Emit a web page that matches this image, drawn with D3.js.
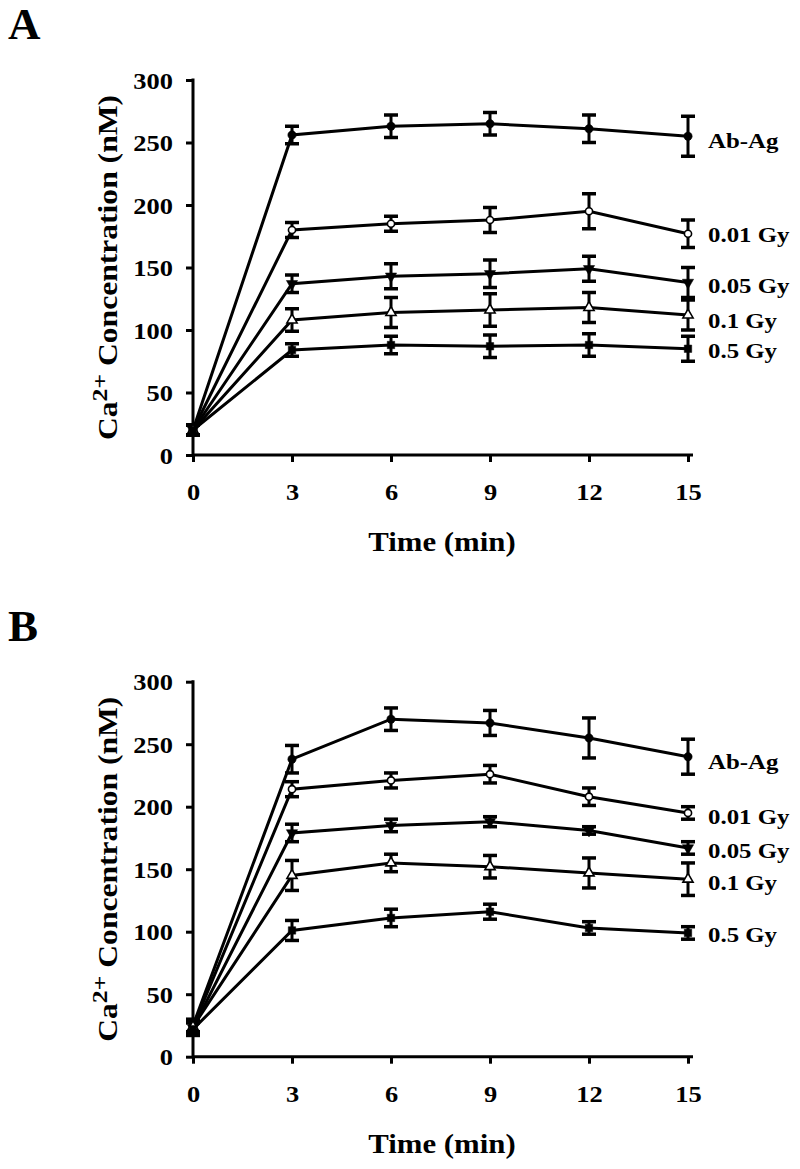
<!DOCTYPE html>
<html><head><meta charset="utf-8">
<script src="https://cdn.jsdelivr.net/npm/d3@7"></script>
<style>
body{margin:0;background:#fff}
text{font-family:"Liberation Serif","Times New Roman",Times,serif;font-weight:bold;fill:#000}
</style>
</head><body>
<svg id="chart" width="800" height="1169"></svg>
<script>
// ---- data ----
const times = [0, 3, 6, 9, 12, 15];
const seriesNames = ["Ab-Ag", "0.01 Gy", "0.05 Gy", "0.1 Gy", "0.5 Gy"];
const markerTypes = ["dot", "ring", "triDown", "triUp", "square"];
const xTicks = [0, 3, 6, 9, 12, 15];
const yTicks = [0, 50, 100, 150, 200, 250, 300];

const panelAValues = [
  [20, 256, 263, 265, 261, 255],
  [20, 180, 185, 188, 195, 177],
  [20, 137, 143, 145, 149, 138],
  [20, 108, 114, 116, 118, 112],
  [20, 84, 88, 87, 88, 85]
];
const panelAErrors = [
  [4, 7, 9, 9, 11, 16],
  [4, 6, 6, 10, 14, 11],
  [4, 7, 10, 11, 10, 12],
  [4, 9, 12, 13, 12, 12],
  [4, 5, 7, 9, 9, 10]
];
const panelBValues = [
  [25, 238, 270, 267, 255, 240],
  [24, 214, 221, 226, 208, 195],
  [23, 179, 185, 188, 181, 167],
  [24, 145, 155, 152, 147, 142],
  [22, 101, 111, 116, 103, 99]
];
const panelBErrors = [
  [5, 11, 9, 10, 16, 14],
  [5, 6, 6, 7, 7, 5],
  [5, 7, 5, 4, 3, 5],
  [5, 12, 7, 9, 12, 13],
  [5, 8, 7, 6, 5, 5]
];
const panelALabelOffsets = [12, 8, 10, 13, 9];
const panelBLabelOffsets = [12, 11, 10, 11, 9];

const svg = d3.select("#chart");
const STRETCH = 1.15;

function drawPanel(letter, top, values, errors, labelOffsets) {
  const x = d3.scaleLinear().domain([0, 15]).range([193, 688]);
  const y = d3.scaleLinear().domain([0, 300]).range([top + 375, top]);
  const g = svg.append("g");

  g.append("text").attr("x", 8).attr("y", top - 41).attr("font-size", 45).text(letter);

  const ax = g.append("g").attr("transform", `translate(0,${y(0)})`)
    .call(d3.axisBottom(x).tickValues(xTicks).tickSize(7).tickSizeOuter(0).tickPadding(0));
  ax.attr("font-family", null);
  ax.select(".domain").remove();
  ax.selectAll(".tick line").attr("stroke", "#000").attr("stroke-width", 3);
  ax.selectAll(".tick text").attr("font-size", 23).attr("y", 0).attr("dy", 0)
    .attr("transform", `translate(0,45) scale(${STRETCH},1)`);

  const ay = g.append("g").attr("transform", `translate(${x(0)},0)`)
    .call(d3.axisLeft(y).tickValues(yTicks).tickSize(7).tickSizeOuter(0));
  ay.attr("font-family", null);
  ay.select(".domain").remove();
  ay.selectAll(".tick line").attr("stroke", "#000").attr("stroke-width", 3);
  ay.selectAll(".tick text").attr("font-size", 23).attr("x", 0).attr("dy", "0.35em")
    .attr("transform", `translate(-20,0) scale(${STRETCH},1)`);

  g.append("line").attr("x1", x(0)).attr("x2", x(0)).attr("y1", y(300) - 1.5).attr("y2", y(0) + 1.5)
    .attr("stroke", "#000").attr("stroke-width", 3);
  g.append("line").attr("x1", x(0)).attr("x2", x(15) + 5).attr("y1", y(0)).attr("y2", y(0))
    .attr("stroke", "#000").attr("stroke-width", 3);

  const yt = g.append("text").attr("text-anchor", "middle").attr("font-size", 27)
    .attr("transform", `translate(117,${(y(0) + y(300)) / 2}) rotate(-90) scale(1.17,1)`);
  yt.append("tspan").text("Ca");
  yt.append("tspan").attr("font-size", 22).attr("dy", -10).text("2+");
  yt.append("tspan").attr("dy", 10).text(" Concentration (nM)");

  g.append("text").attr("text-anchor", "middle").attr("font-size", 28)
    .attr("transform", `translate(442,${y(0) + 96}) scale(1.1,1)`).text("Time (min)");

  const line = d3.line().x((d, i) => x(times[i])).y(d => y(d));

  values.forEach((vals) => {
    g.append("path").datum(vals).attr("d", line)
      .attr("fill", "none").attr("stroke", "#000").attr("stroke-width", 3);
  });
  values.forEach((vals, s) => {
    const eg = g.append("g");
    vals.forEach((v, i) => {
      const e = errors[s][i];
      const cx = x(times[i]);
      eg.append("line").attr("x1", cx).attr("x2", cx).attr("y1", y(v + e)).attr("y2", y(v - e))
        .attr("stroke", "#000").attr("stroke-width", 3);
      [v + e, v - e].forEach(w => {
        eg.append("line").attr("x1", cx - 7).attr("x2", cx + 7).attr("y1", y(w)).attr("y2", y(w))
          .attr("stroke", "#000").attr("stroke-width", 3.5);
      });
    });
  });
  values.forEach((vals, s) => {
    const type = markerTypes[s];
    vals.forEach((v, i) => {
      const cx = x(times[i]), cy = y(v);
      let sym, rot = 0, open = false;
      if (type === "dot") sym = d3.symbol(d3.symbolCircle, 55);
      else if (type === "ring") { sym = d3.symbol(d3.symbolCircle, 40); open = true; }
      else if (type === "triDown") { sym = d3.symbol(d3.symbolTriangle, 55); rot = 180; }
      else if (type === "triUp") { sym = d3.symbol(d3.symbolTriangle, 45); open = true; }
      else sym = d3.symbol(d3.symbolSquare, 55);
      g.append("path").attr("d", sym())
        .attr("transform", `translate(${cx},${cy}) rotate(${rot})`)
        .attr("fill", open ? "#fff" : "#000").attr("stroke", "#000").attr("stroke-width", open ? 1.6 : 0.5);
    });
    const last = vals[vals.length - 1];
    g.append("text").attr("font-size", 22)
      .attr("transform", `translate(708,${y(last) + labelOffsets[s]}) scale(1.13,1)`)
      .text(seriesNames[s]);
  });
}

drawPanel("A", 80, panelAValues, panelAErrors, panelALabelOffsets);
drawPanel("B", 681.7, panelBValues, panelBErrors, panelBLabelOffsets);
</script>
</body></html>
